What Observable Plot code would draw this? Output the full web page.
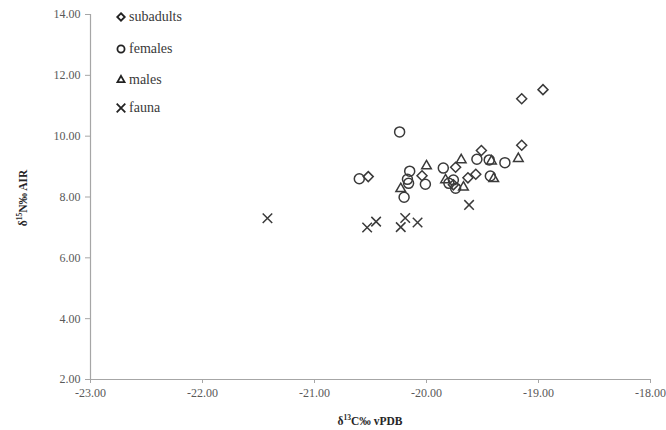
<!DOCTYPE html>
<html><head><meta charset="utf-8">
<script src="https://cdn.jsdelivr.net/npm/d3@7"></script>
<script src="https://cdn.jsdelivr.net/npm/@observablehq/plot@0.6"></script>
<style>
body{margin:0;background:#fff;}
#wrap{position:relative;width:666px;height:430px;overflow:hidden;}
#chart{position:absolute;left:0;top:0;}
#legend{position:absolute;left:0;top:0;font-family:"Liberation Serif",serif;font-size:14px;color:#3a3a3a;}
.row{position:absolute;display:flex;align-items:center;white-space:nowrap;height:20px;}
.row svg{margin-right:1px;}
.title{position:absolute;font-family:"Liberation Serif",serif;font-weight:bold;font-size:11.5px;color:#262626;white-space:nowrap;}
.title sup{font-size:7.5px;}
</style></head><body>
<div id="wrap"><div id="chart"></div><div id="legend"></div>
<div class="title" id="xt" style="left:370px;top:420px;transform:translate(-50%,-50%);">δ<sup>13</sup>C‰ vPDB</div>
<div class="title" id="yt" style="left:22px;top:198px;transform:translate(-50%,-50%) rotate(-90deg);">δ<sup>15</sup>N‰ AIR</div>
</div>
<script>
const groups = ["subadults", "females", "males", "fauna"];
const symbols = ["diamond2", "circle", "triangle2", "times"];
const xTicks = [-23, -22, -21, -20, -19, -18];
const yTicks = [2, 4, 6, 8, 10, 12, 14];

const subadults = [[-18.96,11.53],[-19.15,11.23],[-19.15,9.70],[-19.51,9.53],[-20.52,8.67],[-20.04,8.70],[-19.74,8.98],[-19.63,8.63],[-19.56,8.75],[-19.76,8.40]];
const females = [[-20.24,10.14],[-20.60,8.60],[-20.15,8.85],[-20.17,8.58],[-20.16,8.45],[-20.20,7.99],[-20.01,8.42],[-19.85,8.95],[-19.76,8.56],[-19.74,8.29],[-19.80,8.45],[-19.55,9.24],[-19.44,9.22],[-19.43,8.69],[-19.30,9.13]];
const males = [[-20.23,8.27],[-20.00,9.02],[-19.83,8.56],[-19.69,9.22],[-19.67,8.32],[-19.42,9.18],[-19.40,8.60],[-19.18,9.26]];
const fauna = [[-21.42,7.30],[-20.53,7.00],[-20.45,7.19],[-20.23,7.01],[-20.19,7.31],[-20.08,7.16],[-19.62,7.74]];

const series = [subadults, females, males, fauna];
const radii = [4.5, 5, 4.6, 4.4];
const ink = "#3a3a3a";
const fmt = d => d.toFixed(2);

const plot = Plot.plot({
  width: 666,
  height: 430,
  marginLeft: 90,
  marginRight: 16,
  marginTop: 14,
  marginBottom: 51,
  style: {fontFamily: "'Liberation Serif', serif", background: "#fff"},
  x: {domain: [-23, -18]},
  y: {domain: [2, 14]},
  marks: [
    Plot.ruleX([xTicks[0]], {stroke: "#a6a6a6", strokeWidth: 1.2}),
    Plot.ruleY([yTicks[0]], {stroke: "#a6a6a6", strokeWidth: 1.2}),
    Plot.axisX({ticks: xTicks, tickFormat: fmt, tickSize: 4, tickPadding: 5, stroke: "#a6a6a6", fill: "#595959", fontSize: 12, label: null}),
    Plot.axisY({ticks: yTicks, tickFormat: fmt, tickSize: 5, tickPadding: 5, stroke: "#a6a6a6", fill: "#595959", fontSize: 12, label: null}),
    ...series.map((s, i) => Plot.dot(s, {x: d => d[0], y: d => d[1], symbol: symbols[i], r: radii[i], stroke: ink, fill: "none", strokeWidth: 1.5}))
  ]
});
document.getElementById("chart").appendChild(plot);

// legend
const legend = document.getElementById("legend");
const rowY = [17, 49, 80, 108];
groups.forEach((g, i) => {
  const row = document.createElement("div");
  row.className = "row";
  row.style.left = "114px";
  row.style.top = (rowY[i] - 10) + "px";
  const sym = {diamond2: d3.symbolDiamond2, circle: d3.symbolCircle, triangle2: d3.symbolTriangle2, times: d3.symbolTimes}[symbols[i]];
  const size = i === 1 ? 40 : (i === 3 ? 50 : 36);
  const svg = d3.create("svg").attr("width", 14).attr("height", 14);
  svg.append("path").attr("transform", "translate(7,7)").attr("d", d3.symbol(sym, size)())
    .attr("fill", "none").attr("stroke", "#222").attr("stroke-width", 1.8);
  row.appendChild(svg.node());
  const span = document.createElement("span");
  span.textContent = g;
  row.appendChild(span);
  legend.appendChild(row);
});
</script>
</body></html>
